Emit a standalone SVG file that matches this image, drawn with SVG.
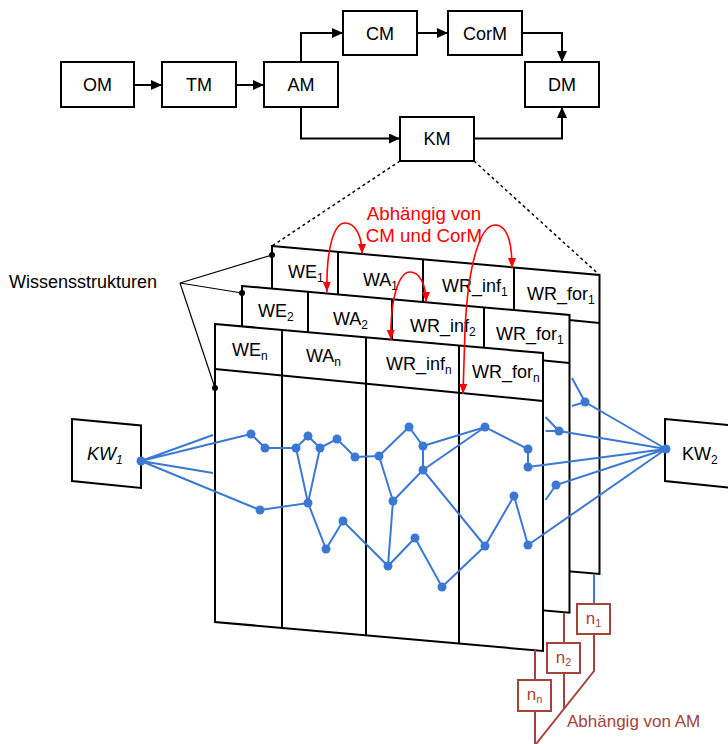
<svg xmlns="http://www.w3.org/2000/svg" width="728" height="744" viewBox="0 0 728 744">
<style>
.box{fill:#fff;stroke:#000;stroke-width:2}
.lbl{font-family:"Liberation Sans",Arial,sans-serif;font-size:18px;fill:#000}
.sub{font-size:12px}
.flow{fill:none;stroke:#000;stroke-width:2}
.panel{fill:#fff;stroke:#000;stroke-width:2}
.pl{fill:none;stroke:#000;stroke-width:2}
.blue{fill:none;stroke:#3a78d4;stroke-width:2}
.bd{fill:#3a78d4}
.red{fill:none;stroke:#ff0000;stroke-width:1.6}
.brown{fill:none;stroke:#a3443c;stroke-width:2}
.btxt{font-family:"Liberation Sans",Arial,sans-serif;font-size:17px;fill:#a3443c}
.rtxt{font-family:"Liberation Sans",Arial,sans-serif;font-size:18.7px;fill:#ff0000}
.thin{fill:none;stroke:#000;stroke-width:1.2}
</style>
<defs>
<marker id="ah" markerUnits="userSpaceOnUse" markerWidth="11" markerHeight="10" refX="11" refY="5" orient="auto">
<path d="M0,0 L11,5 L0,10 z" fill="#000"/>
</marker>
<marker id="rh" markerUnits="userSpaceOnUse" markerWidth="10" markerHeight="8" refX="10" refY="4" orient="auto-start-reverse">
<path d="M0,0 L10,4 L0,8 z" fill="#ff0000"/>
</marker>
</defs>

<g id="connectors">
<line class="flow" x1="134" y1="85" x2="162" y2="85" marker-end="url(#ah)"/>
<line class="flow" x1="236" y1="85" x2="264" y2="85" marker-end="url(#ah)"/>
<polyline class="flow" points="301,62 301,33 343,33" marker-end="url(#ah)"/>
<line class="flow" x1="417" y1="33" x2="448" y2="33" marker-end="url(#ah)"/>
<polyline class="flow" points="522,33 562,33 562,62" marker-end="url(#ah)"/>
<polyline class="flow" points="301,107 301,138.5 400,138.5" marker-end="url(#ah)"/>
<polyline class="flow" points="474,138.5 562,138.5 562,107" marker-end="url(#ah)"/>
<line x1="400" y1="161" x2="272" y2="246" stroke="#000" stroke-width="1.5" stroke-dasharray="3,3"/>
<line x1="474" y1="161" x2="599.5" y2="275" stroke="#000" stroke-width="1.5" stroke-dasharray="3,3"/>
</g>

<g id="OM"><rect class="box" x="61" y="62" width="73" height="45"/><text class="lbl" x="97.5" y="91" text-anchor="middle">OM</text></g>
<g id="TM"><rect class="box" x="162" y="62" width="74" height="45"/><text class="lbl" x="199" y="91" text-anchor="middle">TM</text></g>
<g id="AM"><rect class="box" x="264" y="62" width="74" height="45"/><text class="lbl" x="301" y="91" text-anchor="middle">AM</text></g>
<g id="CM"><rect class="box" x="343" y="11" width="74" height="44"/><text class="lbl" x="380" y="39.5" text-anchor="middle">CM</text></g>
<g id="CorM"><rect class="box" x="448" y="11" width="74" height="44"/><text class="lbl" x="485" y="39.5" text-anchor="middle">CorM</text></g>
<g id="DM"><rect class="box" x="525" y="62" width="74" height="45"/><text class="lbl" x="562" y="91" text-anchor="middle">DM</text></g>
<g id="KM"><rect class="box" x="400" y="117" width="74" height="44"/><text class="lbl" x="437" y="145" text-anchor="middle">KM</text></g>

<g id="panel1">
<polygon class="panel" points="272,246 599.5,275 599.5,574 272,545"/>
<line class="pl" x1="272" y1="291" x2="599.5" y2="323"/>
<line class="pl" x1="338" y1="251.8" x2="338" y2="550.8"/>
<line class="pl" x1="423" y1="259.4" x2="423" y2="558.4"/>
<line class="pl" x1="514" y1="267.4" x2="514" y2="566.4"/>
<text class="lbl" x="288" y="278">WE<tspan class="sub" dy="4">1</tspan></text>
<text class="lbl" x="363" y="286">WA<tspan class="sub" dy="4">1</tspan></text>
<text class="lbl" x="442" y="292">WR_inf<tspan class="sub" dy="4">1</tspan></text>
<text class="lbl" x="527" y="300">WR_for<tspan class="sub" dy="4">1</tspan></text>
</g>

<g id="panel2">
<polygon class="panel" points="242,286 569.5,315 569.5,612.7 242,583.7"/>
<line class="pl" x1="242" y1="331" x2="569.5" y2="363"/>
<line class="pl" x1="308" y1="291.8" x2="308" y2="589.5"/>
<line class="pl" x1="392" y1="299.3" x2="392" y2="597"/>
<line class="pl" x1="484" y1="307.4" x2="484" y2="605.1"/>
<text class="lbl" x="258" y="317">WE<tspan class="sub" dy="4">2</tspan></text>
<text class="lbl" x="333" y="325">WA<tspan class="sub" dy="4">2</tspan></text>
<text class="lbl" x="410" y="332">WR_inf<tspan class="sub" dy="4">2</tspan></text>
<text class="lbl" x="496" y="340">WR_for<tspan class="sub" dy="4">1</tspan></text>
</g>

<g id="panelN">
<polygon class="panel" points="215,324 543,353 543,651 215,622"/>
<line class="pl" x1="215" y1="369" x2="543" y2="401"/>
<line class="pl" x1="282" y1="329.9" x2="282" y2="627.9"/>
<line class="pl" x1="366" y1="337.3" x2="366" y2="635.3"/>
<line class="pl" x1="459" y1="345.6" x2="459" y2="643.6"/>
<text class="lbl" x="232" y="356">WE<tspan class="sub" dy="4">n</tspan></text>
<text class="lbl" x="306" y="362">WA<tspan class="sub" dy="4">n</tspan></text>
<text class="lbl" x="386" y="370">WR_inf<tspan class="sub" dy="4">n</tspan></text>
<text class="lbl" x="472" y="378">WR_for<tspan class="sub" dy="4">n</tspan></text>
</g>

<g id="Wissensstrukturen">
<text class="lbl" x="9" y="288">Wissensstrukturen</text>
<polyline class="thin" points="272,255 180,283 242,293"/>
<line class="thin" x1="180" y1="283" x2="215" y2="388"/>
<circle cx="272" cy="255" r="3"/>
<circle cx="242" cy="293" r="3"/>
<circle cx="215" cy="388" r="3"/>
</g>

<g id="KW1">
<polygon class="box" points="72,419 141,425.5 141,488 72,481"/>
<text class="lbl" x="87" y="460" font-style="italic">KW<tspan class="sub" dy="4">1</tspan></text>
</g>
<g id="KW2">
<polygon class="box" points="665,419 734,425.5 734,488 665,481"/>
<text class="lbl" x="682" y="460">KW<tspan class="sub" dy="4">2</tspan></text>
</g>

<g id="graph">
<path class="blue" d="M141,461 L213,435 M141,461 L251,434 M141,461 L213,473 M141,461 L260,510
M251,434 L265,448 L296,448 L308,436 L320,448 L337,439 L355,457 L379,456
M296,448 L308,503 L320,448 M260,510 L308,503 L326,549 L343,521 L388,566 L415,538 L442,587 L485,546 L514,496 L528,545
M379,456 L409,427 L423,446 L423,470 M379,456 L393,501 L388,566 M393,501 L423,470
M423,446 L485,427 L528,449 L528,467 M423,470 L485,427 M423,470 L485,546
M666,449 L585,402 M572,378 L585,402 L572,406
M666,449 L559,431 M545.5,417 L559,431 L545.5,431
M666,449 L528,467 M666,449 L556,485 L545.5,500 M666,449 L528,545
M594,574 L594,604"/>
<g class="bd">
<circle cx="141" cy="461" r="4.5"/><circle cx="666" cy="449" r="4.5"/>
<circle cx="251" cy="434" r="4.5"/><circle cx="265" cy="448" r="4.5"/><circle cx="296" cy="448" r="4.5"/>
<circle cx="308" cy="436" r="4.5"/><circle cx="320" cy="448" r="4.5"/><circle cx="337" cy="439" r="4.5"/>
<circle cx="355" cy="457" r="4.5"/><circle cx="379" cy="456" r="4.5"/><circle cx="409" cy="427" r="4.5"/>
<circle cx="423" cy="446" r="4.5"/><circle cx="423" cy="470" r="4.5"/><circle cx="485" cy="427" r="4.5"/>
<circle cx="528" cy="449" r="4.5"/><circle cx="528" cy="467" r="4.5"/><circle cx="260" cy="510" r="4.5"/>
<circle cx="308" cy="503" r="4.5"/><circle cx="393" cy="501" r="4.5"/><circle cx="514" cy="496" r="4.5"/>
<circle cx="343" cy="521" r="4.5"/><circle cx="326" cy="549" r="4.5"/><circle cx="415" cy="538" r="4.5"/>
<circle cx="388" cy="566" r="4.5"/><circle cx="485" cy="546" r="4.5"/><circle cx="528" cy="545" r="4.5"/>
<circle cx="442" cy="587" r="4.5"/>
<circle cx="585" cy="402" r="4.5"/><circle cx="559" cy="431" r="4.5"/><circle cx="556" cy="485" r="4.5"/>
</g>
</g>

<g id="dependencies">
<path class="red" d="M327,292 C326,245 335,223 345,223 C355,223 362,235 362,254" marker-start="url(#rh)" marker-end="url(#rh)"/>
<path class="red" d="M391,340 C390,295 400,272 410,272 C420,272 426,285 426,302" marker-start="url(#rh)" marker-end="url(#rh)"/>
<path class="red" d="M463,394 L465,330 C468,265 480,225 495,225 C507,225 512,242 512,268" marker-start="url(#rh)" marker-end="url(#rh)"/>
<text class="rtxt" x="424" y="220" text-anchor="middle">Abhängig von</text>
<text class="rtxt" x="424" y="242" text-anchor="middle">CM und CorM</text>
</g>

<g id="n1"><rect x="577" y="604" width="33" height="30" fill="#fff" stroke="#a3443c" stroke-width="2"/><text class="btxt" x="593.5" y="624" text-anchor="middle">n<tspan font-size="11" dy="3">1</tspan></text></g>
<g id="n2"><rect x="547" y="643" width="33" height="30" fill="#fff" stroke="#a3443c" stroke-width="2"/><text class="btxt" x="563.5" y="663" text-anchor="middle">n<tspan font-size="11" dy="3">2</tspan></text></g>
<g id="nn"><rect x="518" y="680" width="33" height="31" fill="#fff" stroke="#a3443c" stroke-width="2"/><text class="btxt" x="534.5" y="700" text-anchor="middle">n<tspan font-size="11" dy="3">n</tspan></text></g>
<g id="amdep">
<path class="brown" d="M564,612.5 L564,643 M564,673 L564,709 M594,634 L594,671 L536,744 M535,650 L535,680 M535,711 L535,744"/>
<text class="btxt" x="567" y="727">Abhängig von AM</text>
</g>
</svg>
